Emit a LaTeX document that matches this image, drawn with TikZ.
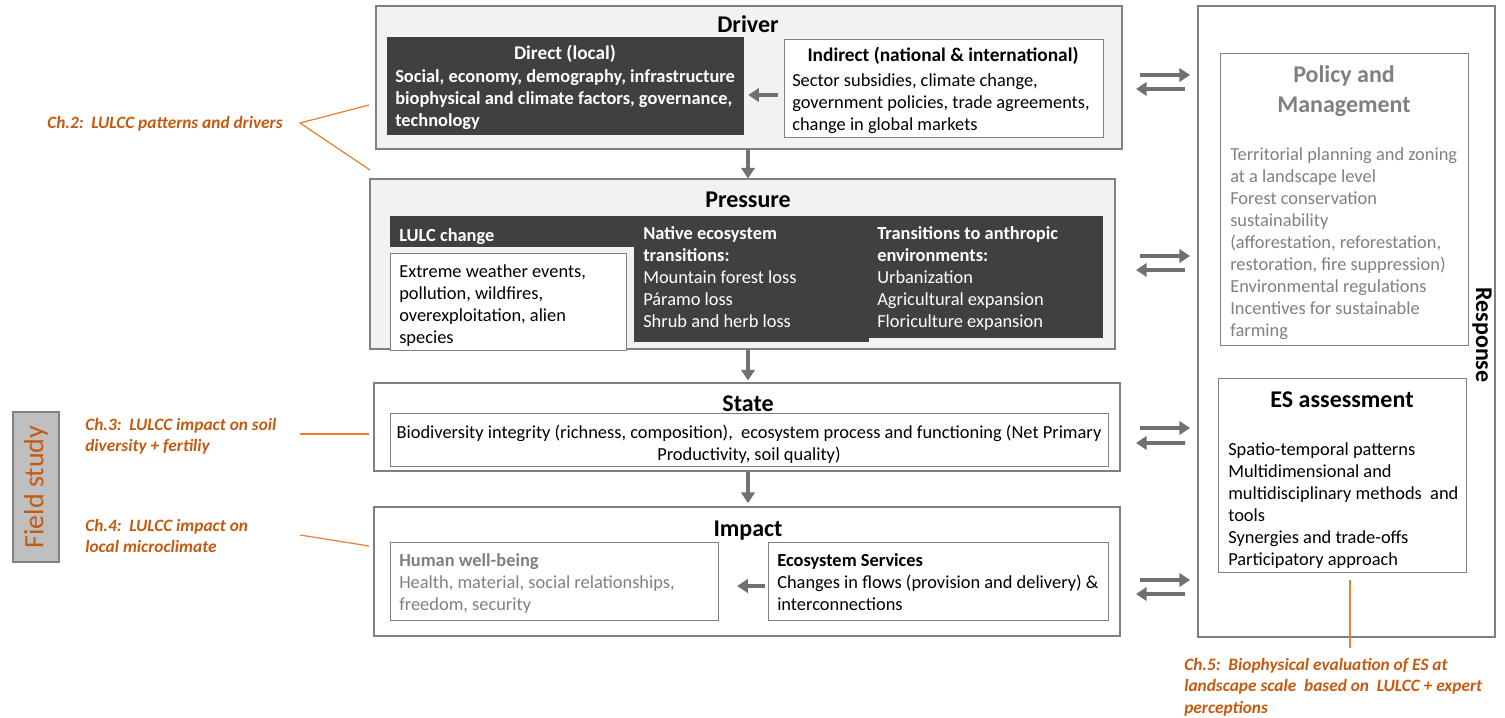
\documentclass[tikz,border=0pt]{standalone}
\usepackage{fontspec}
\setmainfont{Carlito}
\usetikzlibrary{arrows.meta,fit}

\definecolor{boxgray}{HTML}{F2F2F2}
\definecolor{edgegray}{HTML}{808080}
\definecolor{darkfill}{HTML}{404040}
\definecolor{arrowgray}{HTML}{707070}
\definecolor{softtext}{HTML}{808080}
\definecolor{chaptext}{HTML}{C55A11}
\definecolor{chapline}{HTML}{ED7D31}
\definecolor{fieldfill}{HTML}{BFBFBF}

\newcommand{\bodysize}{\fontsize{13.8}{16.5}\selectfont}
\newcommand{\subheadsize}{\fontsize{14.5}{17}\selectfont\bfseries}
\newcommand{\headsize}{\fontsize{18}{21}\selectfont\bfseries}

\begin{document}
\begin{tikzpicture}[x=0.75pt,y=-0.75pt,
  panel/.style={draw=edgegray, line width=0.8pt, fill=boxgray, inner sep=0pt},
  whitebox/.style={draw=edgegray, line width=0.7pt, fill=white, inner sep=0pt},
  darkbox/.style={fill=darkfill, draw=none, inner sep=0pt},
  textblk/.style={font=\bodysize, inner sep=0pt, anchor=north west, align=left,
    execute at begin node={\strut}},
  basetext/.style={font=\subheadsize, inner sep=0pt, anchor=base},
  heading/.style={font=\headsize, inner sep=0pt, anchor=base},
  chap/.style={font=\fontsize{13}{16}\selectfont\bfseries\itshape, text=chaptext, inner sep=0pt,
    anchor=north west, align=left, execute at begin node={\strut}},
  chapwire/.style={draw=chapline, line width=0.9pt},
  flow/.style={draw=arrowgray, line width=3pt, -{Triangle[length=8pt,width=10pt]}}
]
\fill[white] (0,0) rectangle (1505,717);
\useasboundingbox (0,0) rectangle (1505,717);

% ---------------- Driver ----------------
\node[panel, fit={(376,6)(1122,149)}] (driver) {};
\node[heading] (driverT) at (748,33) {Driver};
\node[darkbox, fit={(387,37)(744,135)}] (direct) {};
\node[basetext, text=white] (directT) at (565,60) {Direct (local)};
\node[textblk, text=white, font=\bodysize\bfseries] (directB) at (395,69)
  {Social, economy, demography, infrastructure\\biophysical and climate factors, governance,\\technology};
\node[whitebox, fit={(784,39)(1103,137)}] (indirect) {};
\node[basetext] (indirectT) at (943,62) {Indirect (national \& international)};
\node[textblk] (indirectB) at (792,73)
  {Sector subsidies, climate change,\\government policies, trade agreements,\\change in global markets};

% ---------------- Pressure ----------------
\node[panel, fit={(370,179)(1115,349)}] (pressure) {};
\node[heading] (pressureT) at (748,207) {Pressure};
\node[darkbox, fit={(390,216)(634,247)}] (lulchead) {};
\node[darkbox, fit={(634,216)(869,342)}] (native) {};
\node[darkbox, fit={(869,216)(1103,338)}] (anthro) {};
\node[whitebox, fit={(390,253)(626,350)}] (lulcbody) {};
\node[textblk, text=white, font=\bodysize\bfseries] (lulcT) at (399,226) {LULC change};
\node[textblk, text=white] (nativeB) at (643,226)
  {\textbf{Native ecosystem}\\\textbf{transitions:}\\Mountain forest loss\\Páramo loss\\Shrub and herb loss};
\node[textblk, text=white] (anthroB) at (877,226)
  {\textbf{Transitions to anthropic}\\\textbf{environments:}\\Urbanization\\Agricultural expansion\\Floriculture expansion};
\node[textblk] (lulcB) at (399,264)
  {Extreme weather events,\\pollution, wildfires,\\overexploitation, alien\\species};

% ---------------- State ----------------
\node[panel, fill=white, fit={(374,383)(1120,471)}] (state) {};
\node[heading] (stateT) at (748,411) {State};
\node[whitebox, fit={(390,413)(1108,466)}] (stateinner) {};
\node[textblk, anchor=north, align=center] (stateB) at (749,425)
  {Biodiversity integrity (richness, composition),\ \ ecosystem process and functioning (Net Primary\\Productivity, soil quality)};

% ---------------- Impact ----------------
\node[panel, fill=white, fit={(374,507)(1120,636)}] (impact) {};
\node[heading] (impactT) at (748,536) {Impact};
\node[whitebox, fit={(390,542)(718,620)}] (hwb) {};
\node[textblk, text=softtext] (hwbB) at (399,553)
  {\textbf{Human well-being}\\Health, material, social relationships,\\freedom, security};
\node[whitebox, fit={(768,542)(1108,620)}] (es) {};
\node[textblk] (esB) at (777,553)
  {\textbf{Ecosystem Services}\\Changes in flows (provision and delivery) \&\\interconnections};

% ---------------- Response ----------------
\node[panel, fill=white, fit={(1198,6)(1495,637)}] (response) {};
\node[rotate=-90, font=\headsize, inner sep=0pt] (responseT) at (1482,335) {Response};
\node[whitebox, fit={(1220,53)(1468,345)}] (policy) {};
\node[font=\headsize, text=softtext, inner sep=0pt, anchor=base] (policyT1) at (1344,83) {Policy and};
\node[font=\headsize, text=softtext, inner sep=0pt, anchor=base] (policyT2) at (1344,112) {Management};
\node[textblk, text=softtext] (policyB) at (1230,147)
  {Territorial planning and zoning\\at a landscape level\\Forest conservation\\sustainability\\(afforestation, reforestation,\\restoration, fire suppression)\\Environmental regulations\\Incentives for sustainable\\farming};
\node[whitebox, fit={(1218,378)(1466,572)}] (esa) {};
\node[heading] (esaT) at (1342,407) {ES assessment};
\node[textblk] (esaB) at (1228,442)
  {Spatio-temporal patterns\\Multidimensional and\\multidisciplinary methods\ \ and\\tools\\Synergies and trade-offs\\Participatory approach};

% ---------------- Field study ----------------
\node[draw=edgegray, line width=0.9pt, fill=fieldfill, inner sep=0pt, fit={(13,412)(59,562)}] (field) {};
\node[rotate=90, text=chaptext, font=\fontsize{21}{24}\selectfont, inner sep=0pt] (fieldT) at (field.center) {Field study};

% ---------------- Chapter notes ----------------
\node[chap] (ch2) at (47,113) {Ch.2:\ \ LULCC patterns and drivers};
\node[chap] (ch3) at (85,418) {Ch.3:\ \ LULCC impact on soil\\diversity + fertiliy};
\node[chap] (ch4) at (85,519) {Ch.4:\ \ LULCC impact on\\local microclimate};
\node[chap] (ch5) at (1184,658) {Ch.5:\ \ Biophysical evaluation of ES at\\landscape scale\ \ based on\ \ LULCC + expert\\perceptions};

\coordinate (ch2tip) at (300,123);
\coordinate (ch2up) at (369,105);
\coordinate (ch2down) at (370,170);
\coordinate (ch3tip) at (300,434);
\coordinate (ch3end) at (369,434);
\coordinate (ch4tip) at (300,535);
\coordinate (ch4end) at (369,546);
\coordinate (ch5col) at (1350,0);
\coordinate (ch5end) at (1350,648);
\draw[chapwire] (ch2up) -- (ch2tip) -- (ch2down);
\draw[chapwire] (ch3tip) -- (ch3end);
\draw[chapwire] (ch4tip) -- (ch4end);
\draw[chapwire] ([yshift=-6pt]esa.south -| ch5col) -- (ch5end);

% ---------------- Flow arrows ----------------
\coordinate (mid) at (748,0);
\coordinate (rowDI) at (0,95);
\coordinate (rowIM) at (0,586);
\draw[flow] (driver.south -| mid) -- (pressure.north -| mid);
\draw[flow, shorten >=1.5pt] (pressure.south -| mid) -- (state.north -| mid);
\draw[flow, shorten >=2.5pt] (state.south -| mid) -- (impact.north -| mid);
\draw[flow, shorten <=4.5pt, shorten >=3pt] (indirect.west |- rowDI) -- (direct.east |- rowDI);
\draw[flow, shorten <=2pt, shorten >=14pt] (es.west |- rowIM) -- (hwb.east |- rowIM);

% exchange arrows between the chain and the response panel
\coordinate (outA) at (1140,0);
\coordinate (outB) at (1190,0);
\coordinate (backA) at (1185,0);
\coordinate (backB) at (1136,0);
\foreach \yr/\yl [count=\k] in {75/89, 256/270, 428/443, 580/594}{
  \coordinate (r\k) at (0,\yr);
  \coordinate (l\k) at (0,\yl);
  \draw[flow] (outA |- r\k) -- (outB |- r\k);
  \draw[flow] (backA |- l\k) -- (backB |- l\k);
}
\end{tikzpicture}
\end{document}
